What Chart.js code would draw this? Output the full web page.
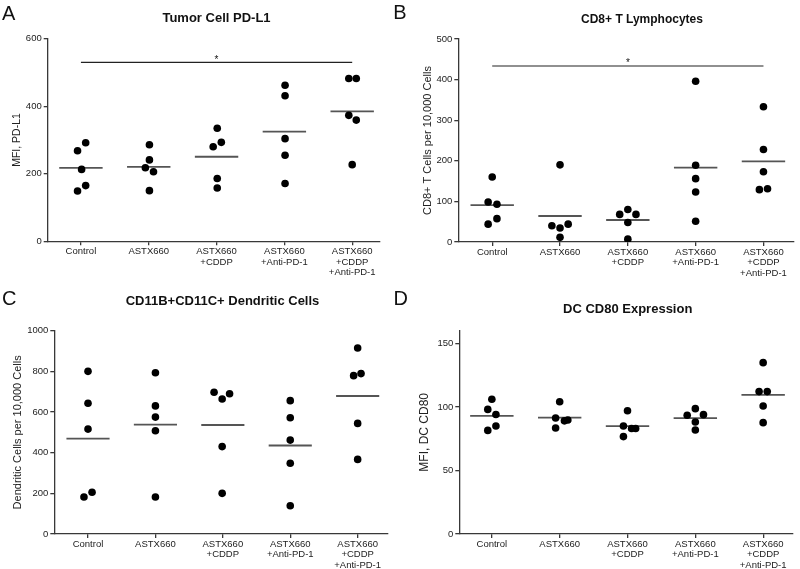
<!DOCTYPE html>
<html><head><meta charset="utf-8">
<script src="https://cdn.jsdelivr.net/npm/chart.js@4.4.0/dist/chart.umd.min.js"></script>
<style>
html,body{margin:0;padding:0;background:#fff;}
#wrap{position:relative;width:800px;height:569px;overflow:hidden;}
.p{position:absolute;}
canvas{display:block;}
</style></head><body>
<div id="wrap">
<div class="p" style="left:0;top:0;"><canvas id="cA" width="392" height="285"></canvas></div>
<div class="p" style="left:392px;top:0;"><canvas id="cB" width="408" height="285"></canvas></div>
<div class="p" style="left:0;top:285px;"><canvas id="cC" width="392" height="284"></canvas></div>
<div class="p" style="left:392px;top:285px;"><canvas id="cD" width="408" height="284"></canvas></div>
</div>
<script>
// ---- Data ----
const categories = [['Control'], ['ASTX660'], ['ASTX660', '+CDDP'], ['ASTX660', '+Anti-PD-1'], ['ASTX660', '+CDDP', '+Anti-PD-1']];

const titleA = 'Tumor Cell PD-L1';
const yLabelA = 'MFI, PD-L1';
const yTicksA = [0, 200, 400, 600];
const valuesA = [[268, 292, 213, 165, 149], [286, 241, 218, 206, 150], [335, 280, 293, 186, 158], [462, 431, 304, 255, 171], [482, 482, 373, 359, 227]];
const jitterA = [[-0.05, 0.07, 0.01, 0.07, -0.05], [0.01, 0.01, -0.05, 0.07, 0.01], [0.01, -0.05, 0.07, 0.01, 0.01], [0.01, 0.01, 0.01, 0.01, 0.01], [-0.05, 0.06, -0.05, 0.06, 0]];
const sigA = {from: 0, to: 4, y: 530, label: '*'};

const titleB = 'CD8+ T Lymphocytes';
const yLabelB = 'CD8+ T Cells per 10,000 Cells';
const yTicksB = [0, 100, 200, 300, 400, 500];
const valuesB = [[160, 98.5, 93, 57.5, 44], [190, 40, 34.5, 44, 11.5], [68, 80, 68, 48, 7], [396, 189, 156, 123, 51], [333, 228, 173, 129, 131]];
const jitterB = [[0, -0.06, 0.07, 0.07, -0.06], [0, -0.12, 0, 0.12, 0], [-0.12, 0, 0.12, 0, 0], [0, 0, 0, 0, 0], [0, 0, 0, -0.06, 0.06]];
const sigB = {from: 0, to: 4, y: 433.5, label: '*'};

const titleC = 'CD11B+CD11C+ Dendritic Cells';
const yLabelC = 'Dendritic Cells per 10,000 Cells';
const yTicksC = [0, 200, 400, 600, 800, 1000];
const valuesC = [[800, 643, 516, 182, 205], [793, 630, 575, 508, 182], [697, 664, 690, 430, 200], [656, 572, 462, 348, 139], [915, 779, 789, 544, 367]];
const jitterC = [[0, 0, 0, -0.06, 0.06], [0, 0, 0, 0, 0], [-0.13, -0.01, 0.1, -0.01, -0.01], [0, 0, 0, 0, 0], [0, -0.06, 0.05, 0, 0]];

const titleD = 'DC CD80 Expression';
const yLabelD = 'MFI, DC CD80';
const yTicksD = [0, 50, 100, 150];
const valuesD = [[106, 98, 94, 85, 81.5], [104, 91.3, 89, 89.7, 83.4], [97, 85, 83, 83, 76.6], [98.6, 93.4, 93.9, 88.1, 81.8], [134.8, 112, 112, 100.7, 87.6]];
const jitterD = [[0, -0.06, 0.06, 0.06, -0.06], [0, -0.06, 0.07, 0.12, -0.06], [0, -0.06, 0.06, 0.12, -0.06], [0, -0.12, 0.12, 0, 0], [0, -0.06, 0.06, 0, 0]];

// ---- Rendering ----
const FONT = '"Liberation Sans", Arial, Helvetica, sans-serif';
Chart.defaults.font.family = FONT;
const AXIS = '#383838';

const textPlugin = {
  id: 'panelText',
  afterDraw(chart, args, o) {
    const ctx = chart.ctx;
    ctx.save();
    ctx.fillStyle = '#111';
    ctx.textBaseline = 'alphabetic';
    ctx.textAlign = 'left';
    ctx.font = '20px ' + FONT;
    ctx.fillText(o.letter, o.letterX, o.letterY);
    ctx.textAlign = 'center';
    ctx.font = 'bold ' + o.titleSize + 'px ' + FONT;
    ctx.fillText(o.title, o.titleX, o.titleY);
    if (o.sig) {
      const x = chart.scales.x.getPixelForValue((o.sig.from + o.sig.to) / 2);
      const y = chart.scales.y.getPixelForValue(o.sig.y);
      ctx.font = '10px ' + FONT;
      ctx.fillText(o.sig.label, x, y + 0.5);
    }
    ctx.restore();
  }
};

function makePanel(id, p) {
  const pts = p.values.flatMap((vals, i) => vals.map((v, j) => ({x: i + p.jitter[i][j], y: v})));
  const means = p.values.map(vals => vals.reduce((a, b) => a + b, 0) / vals.length);
  const meanSegs = means.flatMap((m, i) => [{x: i - 0.32, y: m}, {x: i + 0.32, y: m}, {x: i + 0.5, y: null}]);
  const datasets = [
    {type: 'scatter', data: pts, backgroundColor: '#000', borderColor: '#000', pointRadius: 3.8, pointBorderWidth: 0, order: 0},
    {type: 'line', data: meanSegs, borderColor: '#555', borderWidth: 1.8, pointRadius: 0, spanGaps: false, order: 1}
  ];
  if (p.sig) {
    datasets.push({type: 'line', data: [{x: p.sig.from, y: p.sig.y}, {x: p.sig.to, y: p.sig.y}], borderColor: '#222', borderWidth: 1.2, pointRadius: 0, order: 2});
  }
  const W = p.W, H = p.H;
  new Chart(document.getElementById(id), {
    type: 'scatter',
    data: {datasets},
    plugins: [textPlugin],
    options: {
      responsive: false,
      animation: false,
      events: [],
      layout: {padding: {left: 0, top: p.top, right: W - p.right, bottom: 0}},
      plugins: {
        legend: {display: false},
        tooltip: {enabled: false},
        panelText: {letter: p.letter, letterX: p.letterX, letterY: p.letterY, title: p.title, titleX: p.titleX, titleY: p.titleY, titleSize: p.titleSize, sig: p.sig}
      },
      scales: {
        x: {
          type: 'linear', min: p.xmin, max: p.xmax,
          afterBuildTicks: s => { s.ticks = categories.map((_, i) => ({value: i})); },
          afterFit: s => { s.height = H - p.bottom; },
          ticks: {
            autoSkip: false, maxRotation: 0, minRotation: 0, padding: 1, color: '#222',
            font: {size: 9.5, lineHeight: 1.1},
            callback: v => categories[Math.round(v)]
          },
          grid: {display: true, drawOnChartArea: false, drawTicks: true, tickLength: 4, color: AXIS, lineWidth: 1.3},
          border: {display: true, color: AXIS, width: 1.3}
        },
        y: {
          type: 'linear', min: 0, max: p.ymax,
          afterBuildTicks: s => { s.ticks = p.yTicks.map(v => ({value: v})); },
          afterFit: s => { s.width = p.left; },
          ticks: {padding: 2, color: '#222', font: {size: 9.5}, callback: v => String(v)},
          grid: {display: true, drawOnChartArea: false, drawTicks: true, tickLength: 4, color: AXIS, lineWidth: 1.3},
          border: {display: true, color: AXIS, width: 1.3},
          title: {display: true, text: p.yLabel, color: '#222', font: {size: p.yLabelSize}, padding: {top: p.yLabelPad, bottom: 0}}
        }
      }
    }
  });
}

makePanel('cA', {W: 392, H: 285, left: 47.7, right: 380, top: 38.7, bottom: 241.3, xmin: -0.49, xmax: 4.41, ymax: 600,
  yTicks: yTicksA, values: valuesA, jitter: jitterA, sig: sigA, yLabel: yLabelA, yLabelSize: 10.5, yLabelPad: 10.4,
  letter: 'A', letterX: 2, letterY: 19.5, title: titleA, titleX: 216.5, titleY: 21.7, titleSize: 13});
makePanel('cB', {W: 408, H: 285, left: 66.3, right: 401.3, top: 39, bottom: 242, xmin: -0.5, xmax: 4.44, ymax: 500,
  yTicks: yTicksB, values: valuesB, jitter: jitterB, sig: sigB, yLabel: yLabelB, yLabelSize: 11, yLabelPad: 29.4,
  letter: 'B', letterX: 1.3, letterY: 18.5, title: titleB, titleX: 250, titleY: 22.7, titleSize: 12});
makePanel('cC', {W: 392, H: 284, left: 54.3, right: 390, top: 45.7, bottom: 249, xmin: -0.5, xmax: 4.45, ymax: 1000,
  yTicks: yTicksC, values: valuesC, jitter: jitterC, sig: null, yLabel: yLabelC, yLabelSize: 11, yLabelPad: 10.9,
  letter: 'C', letterX: 2, letterY: 20, title: titleC, titleX: 222.5, titleY: 20, titleSize: 13});
makePanel('cD', {W: 408, H: 284, left: 67.3, right: 401, top: 45.6, bottom: 249, xmin: -0.48, xmax: 4.44, ymax: 160,
  yTicks: yTicksD, values: valuesD, jitter: jitterD, sig: null, yLabel: yLabelD, yLabelSize: 12, yLabelPad: 25,
  letter: 'D', letterX: 1.5, letterY: 20, title: titleD, titleX: 235.7, titleY: 28, titleSize: 13});
</script>
</body></html>
